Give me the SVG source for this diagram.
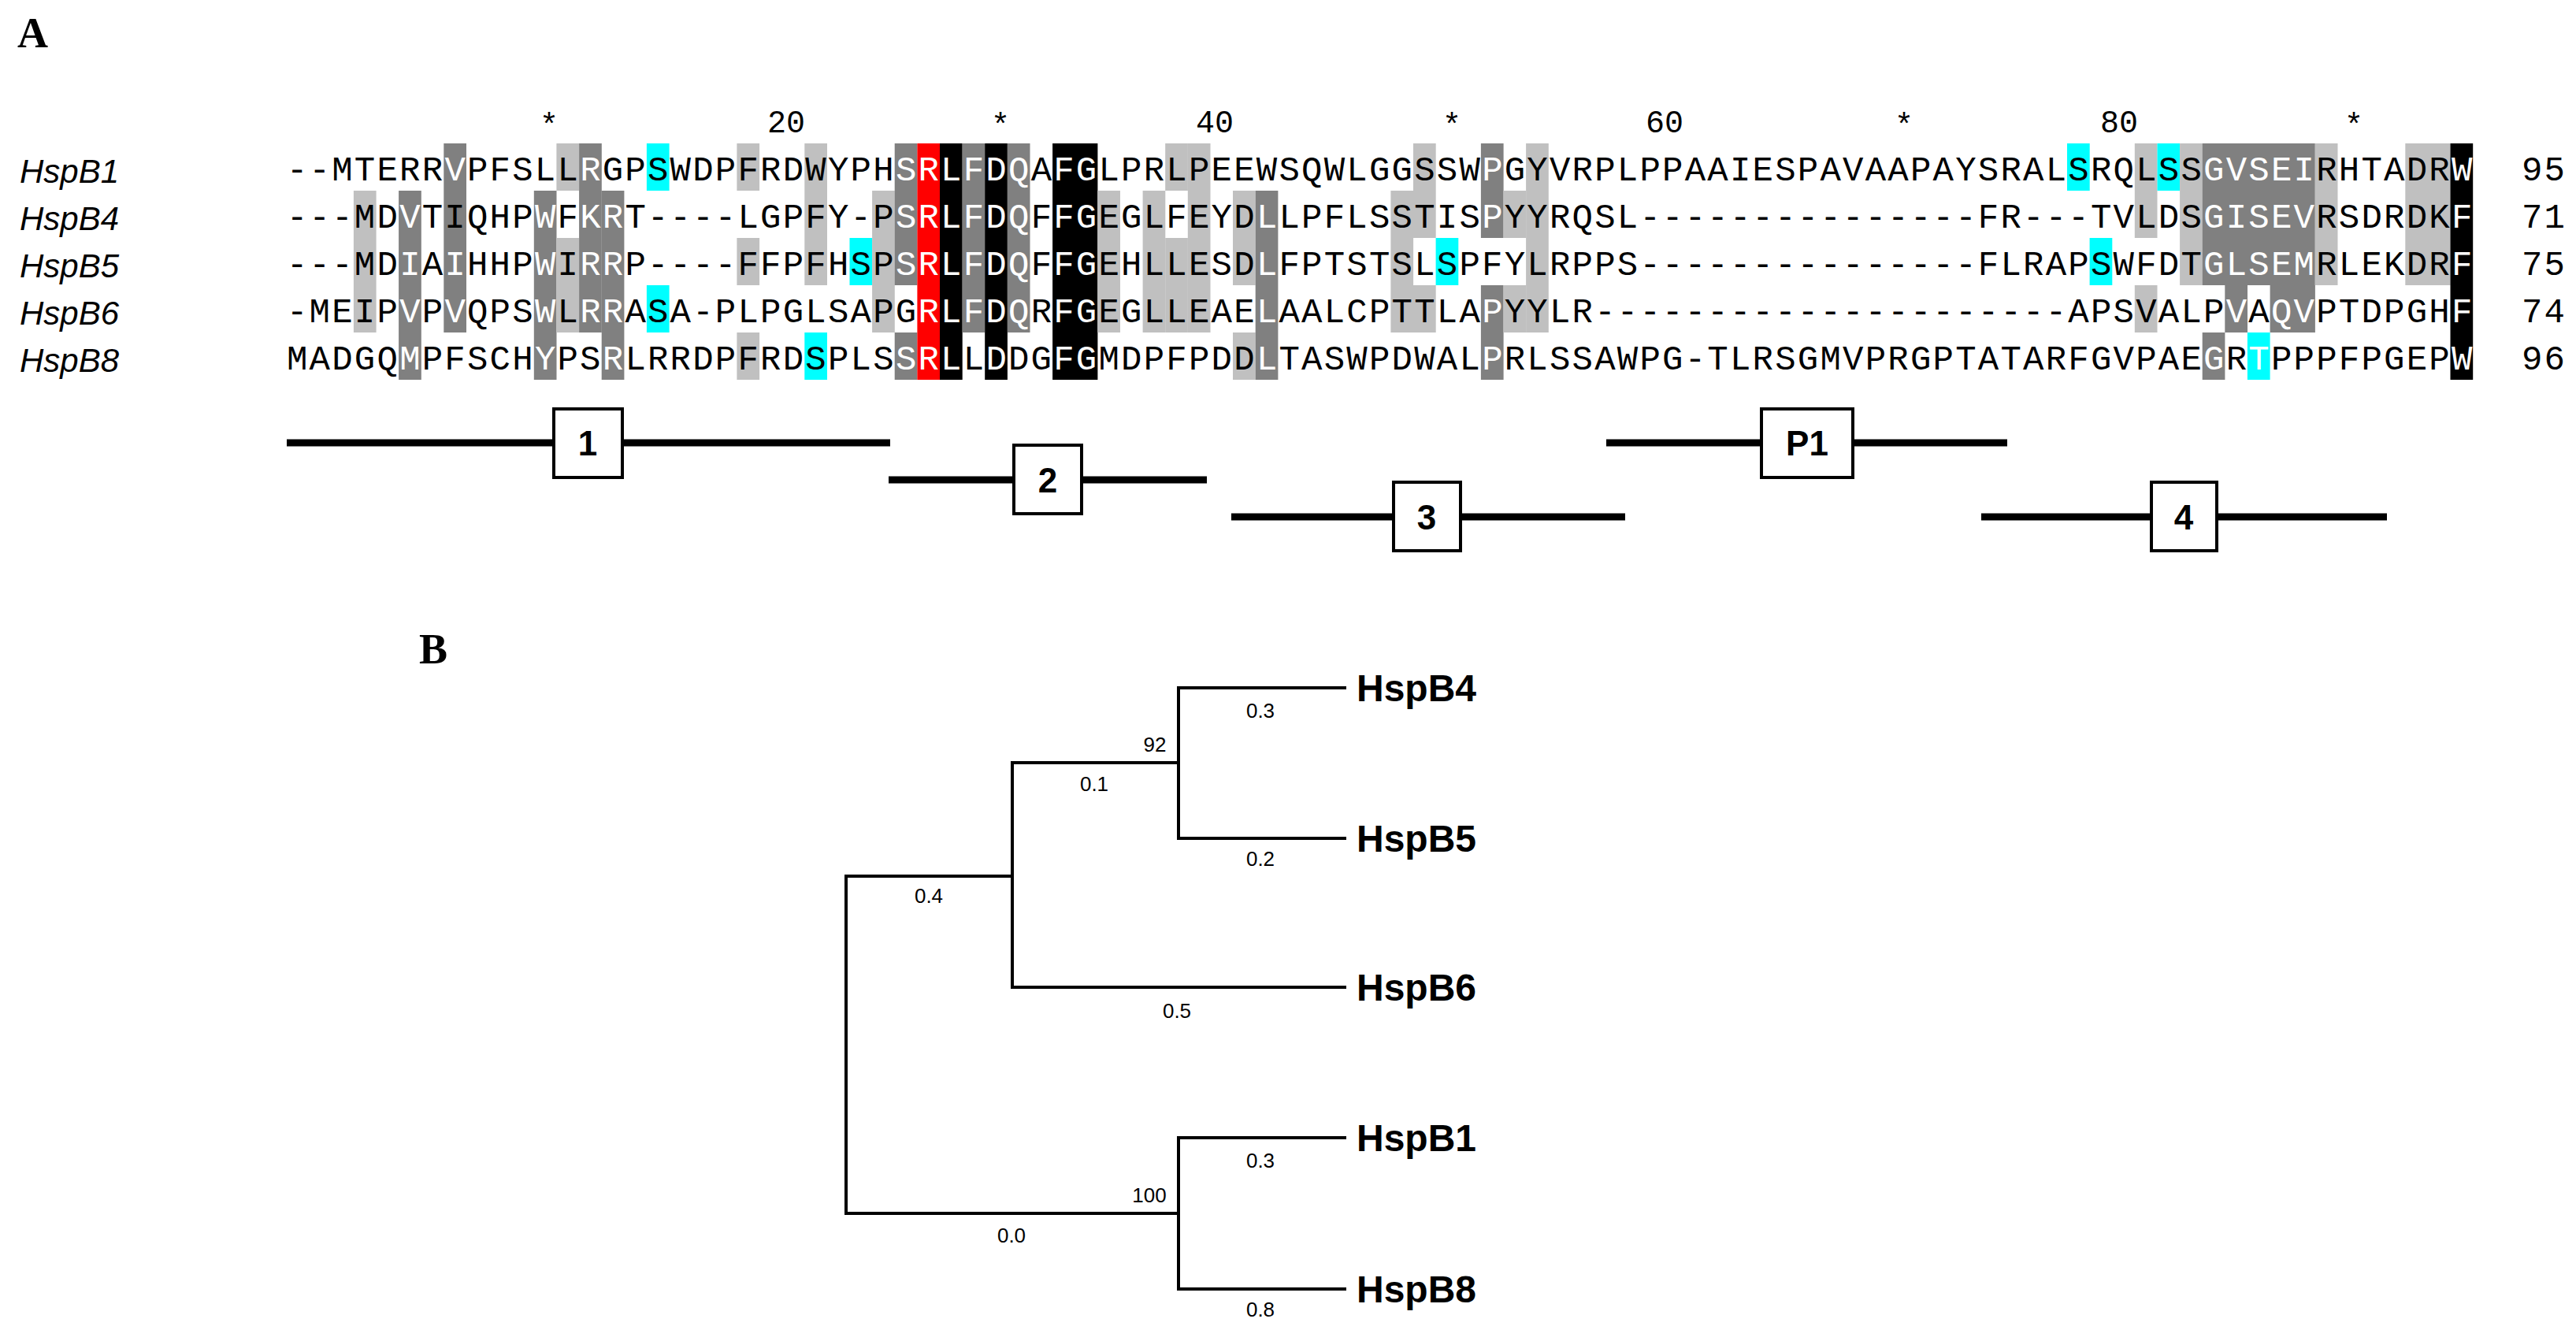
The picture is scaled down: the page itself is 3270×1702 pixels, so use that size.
<svg xmlns="http://www.w3.org/2000/svg" width="3270" height="1702" viewBox="0 0 3270 1702">
<style>
.seq{font-family:"Liberation Mono",monospace;font-size:44px;letter-spacing:2.22px;fill:#000}
.w{fill:#fff}
.nm{font-family:"Liberation Sans",Arial,sans-serif;font-style:italic;font-size:42px}
.rul{font-family:"Liberation Mono",monospace;font-size:40px;text-anchor:middle}
.L{fill:#c0c0c0}.D{fill:#808080}.K{fill:#000}.R{fill:#ff0000}.C{fill:#00ffff}
.bar{stroke:#000;stroke-width:9}
.box{fill:#fff;stroke:#000;stroke-width:4}
.bl{font-family:"Liberation Sans",Arial,sans-serif;font-weight:bold;font-size:44px;text-anchor:middle}
.tr{fill:none;stroke:#000;stroke-width:4}
.leaf{font-family:"Liberation Sans",Arial,sans-serif;font-weight:bold;font-size:48px}
.bv{font-family:"Liberation Sans",Arial,sans-serif;font-size:26px;text-anchor:middle}
.pl{font-family:"Liberation Serif",serif;font-weight:bold;font-size:54px}
</style>
<rect width="3270" height="1702" fill="#fff"/>
<text class="pl" x="22" y="60">A</text>
<text class="pl" x="532" y="842">B</text>
<g id="ruler">
<text class="rul" x="697" y="172">*</text><text class="rul" x="998" y="168">20</text>
<text class="rul" x="1270" y="172">*</text><text class="rul" x="1542" y="168">40</text>
<text class="rul" x="1843" y="172">*</text><text class="rul" x="2113" y="168">60</text>
<text class="rul" x="2417" y="172">*</text><text class="rul" x="2690" y="168">80</text>
<text class="rul" x="2988" y="172">*</text>
</g>
<g id="shading">
<rect class="L" x="448.9" y="242" width="28.7" height="180"/>
<rect class="D" x="506.1" y="242" width="28.7" height="240"/>
<rect class="D" x="563.3" y="182" width="28.7" height="240"/>
<rect class="D" x="677.8" y="242" width="28.7" height="240"/>
<rect class="L" x="706.4" y="182" width="28.7" height="60"/>
<rect class="L" x="706.4" y="302" width="28.7" height="120"/>
<rect class="D" x="735.1" y="182" width="28.7" height="240"/>
<rect class="D" x="763.7" y="242" width="28.7" height="240"/>
<rect class="C" x="820.9" y="182" width="28.7" height="60"/>
<rect class="C" x="820.9" y="362" width="28.7" height="60"/>
<rect class="L" x="935.4" y="182" width="28.7" height="60"/>
<rect class="L" x="935.4" y="302" width="28.7" height="60"/>
<rect class="L" x="935.4" y="422" width="28.7" height="60"/>
<rect class="L" x="1021.3" y="182" width="28.7" height="180"/>
<rect class="C" x="1021.3" y="422" width="28.7" height="60"/>
<rect class="C" x="1078.5" y="302" width="28.7" height="60"/>
<rect class="L" x="1107.1" y="242" width="28.7" height="180"/>
<rect class="D" x="1135.7" y="182" width="28.7" height="180"/>
<rect class="D" x="1135.7" y="422" width="28.7" height="60"/>
<rect class="R" x="1164.4" y="182" width="28.7" height="300"/>
<rect class="K" x="1193.0" y="182" width="28.7" height="300"/>
<rect class="D" x="1221.6" y="182" width="28.7" height="240"/>
<rect class="K" x="1250.2" y="182" width="28.7" height="300"/>
<rect class="D" x="1278.8" y="182" width="28.7" height="240"/>
<rect class="K" x="1336.1" y="182" width="57.3" height="300"/>
<rect class="L" x="1393.3" y="242" width="28.7" height="180"/>
<rect class="L" x="1450.6" y="242" width="28.7" height="180"/>
<rect class="L" x="1479.2" y="182" width="28.7" height="60"/>
<rect class="L" x="1479.2" y="302" width="28.7" height="120"/>
<rect class="L" x="1507.8" y="182" width="28.7" height="240"/>
<rect class="L" x="1565.0" y="242" width="28.7" height="120"/>
<rect class="L" x="1565.0" y="422" width="28.7" height="60"/>
<rect class="D" x="1593.7" y="242" width="28.7" height="240"/>
<rect class="L" x="1765.4" y="242" width="28.7" height="180"/>
<rect class="L" x="1794.0" y="182" width="28.7" height="120"/>
<rect class="L" x="1794.0" y="362" width="28.7" height="60"/>
<rect class="C" x="1822.6" y="302" width="28.7" height="60"/>
<rect class="D" x="1879.9" y="182" width="28.7" height="120"/>
<rect class="D" x="1879.9" y="362" width="28.7" height="120"/>
<rect class="L" x="1908.5" y="242" width="28.7" height="60"/>
<rect class="L" x="1908.5" y="362" width="28.7" height="60"/>
<rect class="L" x="1937.1" y="182" width="28.7" height="240"/>
<rect class="C" x="2624.0" y="182" width="28.7" height="60"/>
<rect class="C" x="2652.6" y="302" width="28.7" height="60"/>
<rect class="L" x="2709.8" y="182" width="28.7" height="120"/>
<rect class="L" x="2709.8" y="362" width="28.7" height="60"/>
<rect class="C" x="2738.5" y="182" width="28.7" height="60"/>
<rect class="L" x="2767.1" y="182" width="28.7" height="180"/>
<rect class="D" x="2795.7" y="182" width="143.1" height="180"/>
<rect class="D" x="2795.7" y="422" width="28.7" height="60"/>
<rect class="D" x="2824.3" y="362" width="28.7" height="60"/>
<rect class="D" x="2881.6" y="362" width="57.3" height="60"/>
<rect class="C" x="2852.9" y="422" width="28.7" height="60"/>
<rect class="L" x="2938.8" y="182" width="28.7" height="180"/>
<rect class="L" x="3053.3" y="182" width="57.3" height="180"/>
<rect class="K" x="3110.5" y="182" width="28.7" height="300"/>
</g>
<g id="HspB1"><text class="nm" x="25" y="232">HspB1</text><text class="seq" x="364" y="229">--MTERR<tspan class="w">V</tspan>PFSLL<tspan class="w">R</tspan>GPSWDPFRDWYPH<tspan class="w">SRLFDQ</tspan>A<tspan class="w">FG</tspan>LPRLPEEWSQWLGGSSW<tspan class="w">P</tspan>GYVRPLPPAAIESPAVAAPAYSRALSRQLSS<tspan class="w">GVSEI</tspan>RHTADR<tspan class="w">W</tspan></text><text class="seq" x="3201" y="229">95</text></g>
<g id="HspB4"><text class="nm" x="25" y="292">HspB4</text><text class="seq" x="364" y="289">---MD<tspan class="w">V</tspan>TIQHP<tspan class="w">W</tspan>F<tspan class="w">KR</tspan>T----LGPFY-P<tspan class="w">SRLFDQ</tspan>F<tspan class="w">FG</tspan>EGLFEYD<tspan class="w">L</tspan>LPFLSSTIS<tspan class="w">P</tspan>YYRQSL---------------FR---TVLDS<tspan class="w">GISEV</tspan>RSDRDK<tspan class="w">F</tspan></text><text class="seq" x="3201" y="289">71</text></g>
<g id="HspB5"><text class="nm" x="25" y="352">HspB5</text><text class="seq" x="364" y="349">---MD<tspan class="w">I</tspan>A<tspan class="w">I</tspan>HHP<tspan class="w">W</tspan>I<tspan class="w">RR</tspan>P----FFPFHSP<tspan class="w">SRLFDQ</tspan>F<tspan class="w">FG</tspan>EHLLESD<tspan class="w">L</tspan>FPTSTSLSPFYLRPPS---------------FLRAPSWFDT<tspan class="w">GLSEM</tspan>RLEKDR<tspan class="w">F</tspan></text><text class="seq" x="3201" y="349">75</text></g>
<g id="HspB6"><text class="nm" x="25" y="412">HspB6</text><text class="seq" x="364" y="409">-MEIP<tspan class="w">V</tspan>P<tspan class="w">V</tspan>QPS<tspan class="w">W</tspan>L<tspan class="w">RR</tspan>ASA-PLPGLSAPG<tspan class="w">RLFDQ</tspan>R<tspan class="w">FG</tspan>EGLLEAE<tspan class="w">L</tspan>AALCPTTLA<tspan class="w">P</tspan>YYLR---------------------APSVALP<tspan class="w">V</tspan>A<tspan class="w">QV</tspan>PTDPGH<tspan class="w">F</tspan></text><text class="seq" x="3201" y="409">74</text></g>
<g id="HspB8"><text class="nm" x="25" y="472">HspB8</text><text class="seq" x="364" y="469">MADGQ<tspan class="w">M</tspan>PFSCH<tspan class="w">Y</tspan>PS<tspan class="w">R</tspan>LRRDPFRDSPLS<tspan class="w">SRL</tspan>L<tspan class="w">D</tspan>DG<tspan class="w">FG</tspan>MDPFPDD<tspan class="w">L</tspan>TASWPDWAL<tspan class="w">P</tspan>RLSSAWPG-TLRSGMVPRGPTATARFGVPAE<tspan class="w">G</tspan>R<tspan class="w">T</tspan>PPPFPGEP<tspan class="w">W</tspan></text><text class="seq" x="3201" y="469">96</text></g>
<g id="domains">
<line class="bar" x1="364" y1="562" x2="1130" y2="562"/>
<g id="d1"><rect class="box" x="703" y="519" width="87" height="87"/><text class="bl" x="746" y="578">1</text></g>
<line class="bar" x1="1128" y1="609" x2="1532" y2="609"/>
<g id="d2"><rect class="box" x="1287" y="565" width="86" height="87"/><text class="bl" x="1330" y="625">2</text></g>
<line class="bar" x1="1563" y1="656" x2="2063" y2="656"/>
<g id="d3"><rect class="box" x="1769" y="612" width="85" height="87"/><text class="bl" x="1811" y="672">3</text></g>
<line class="bar" x1="2039" y1="562" x2="2548" y2="562"/>
<g id="dP1"><rect class="box" x="2236" y="519" width="116" height="87"/><text class="bl" x="2294" y="578">P1</text></g>
<line class="bar" x1="2515" y1="656" x2="3030" y2="656"/>
<g id="d4"><rect class="box" x="2731" y="612" width="83" height="87"/><text class="bl" x="2772" y="672">4</text></g>
</g>
<g id="connectors">
<polyline class="tr" points="1285,1112 1074,1112 1074,1540 1496,1540"/>
<polyline class="tr" points="1496,968 1285,968 1285,1253 1709,1253"/>
<polyline class="tr" points="1709,873 1496,873 1496,1064 1709,1064"/>
<polyline class="tr" points="1709,1444 1496,1444 1496,1636 1709,1636"/>
</g>
<g id="leaves">
<text class="leaf" x="1722" y="890">HspB4</text>
<text class="leaf" x="1722" y="1081">HspB5</text>
<text class="leaf" x="1722" y="1270">HspB6</text>
<text class="leaf" x="1722" y="1461">HspB1</text>
<text class="leaf" x="1722" y="1653">HspB8</text>
</g>
<g id="branch-values">
<text class="bv" x="1600" y="911">0.3</text>
<text class="bv" x="1466" y="954">92</text>
<text class="bv" x="1389" y="1004">0.1</text>
<text class="bv" x="1600" y="1099">0.2</text>
<text class="bv" x="1179" y="1146">0.4</text>
<text class="bv" x="1494" y="1292">0.5</text>
<text class="bv" x="1600" y="1482">0.3</text>
<text class="bv" x="1459" y="1526">100</text>
<text class="bv" x="1284" y="1577">0.0</text>
<text class="bv" x="1600" y="1671">0.8</text>
</g>
</svg>
